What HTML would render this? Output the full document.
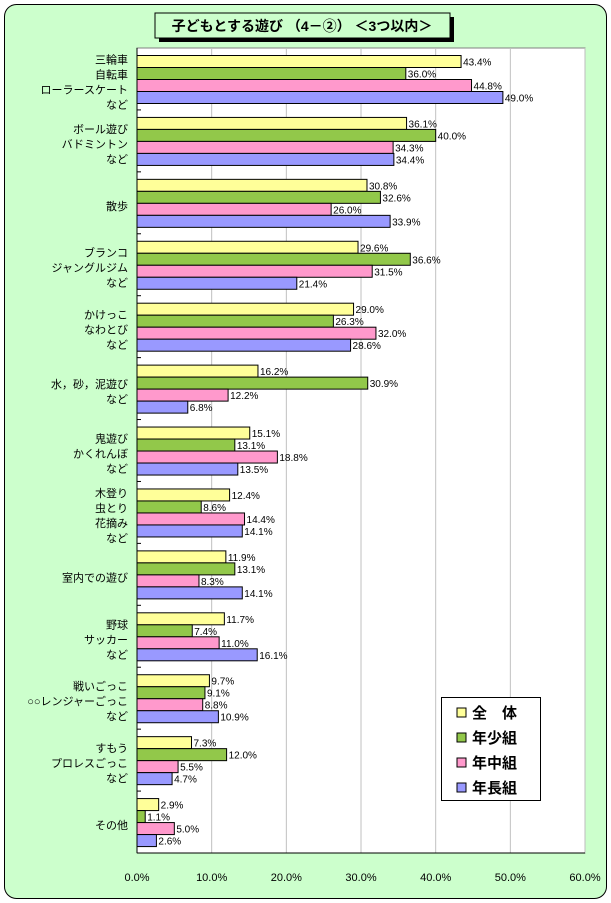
<!DOCTYPE html>
<html><head><meta charset="utf-8">
<style>
html,body{margin:0;padding:0;background:#fff;}
svg{display:block;font-family:"Liberation Sans","Noto Sans CJK JP",sans-serif;}
</style></head>
<body>
<svg id="s" width="611" height="903" xmlns="http://www.w3.org/2000/svg">
<rect x="4.5" y="4.5" width="602" height="894" rx="12" fill="#ccffcc" stroke="#000" stroke-width="1"/>
<rect x="137" y="48" width="448" height="805" fill="#fff" stroke="#808080"/>
<g id="grid"></g>
<g id="bars"></g>
<line x1="137" y1="48" x2="137" y2="853" stroke="#000"/>
<line x1="137" y1="853" x2="585" y2="853" stroke="#000"/>
<rect x="159" y="17" width="295" height="25" fill="#000"/>
<rect x="155" y="13" width="295" height="25" fill="#ccffcc" stroke="#000"/>
<text x="302" y="31" font-size="14" text-anchor="middle" font-weight="bold">子どもとする遊び （4－②） ＜3つ以内＞</text>
<g id="leg">
<rect x="441.5" y="697.5" width="99" height="103" fill="#fff" stroke="#000"/>
<rect x="457" y="708" width="9" height="9" fill="#ffff99" stroke="#000"/>
<text x="472" y="718" font-size="15" font-weight="bold">全　体</text>
<rect x="457" y="733" width="9" height="9" fill="#92c84a" stroke="#000"/>
<text x="472" y="743" font-size="15" font-weight="bold">年少組</text>
<rect x="457" y="758" width="9" height="9" fill="#ff99cc" stroke="#000"/>
<text x="472" y="768" font-size="15" font-weight="bold">年中組</text>
<rect x="457" y="783" width="9" height="9" fill="#9999ff" stroke="#000"/>
<text x="472" y="793" font-size="15" font-weight="bold">年長組</text>
</g>
</svg>
<script>
var NS="http://www.w3.org/2000/svg";
function el(p,t,a,txt){var e=document.createElementNS(NS,t);for(var k in a)e.setAttribute(k,a[k]);if(txt!=null)e.textContent=txt;p.appendChild(e);return e;}
var svg=document.getElementById('s'),grid=document.getElementById('grid'),bars=document.getElementById('bars');
var X0=137,S=7.467,Y0=48,GH=805/13;
for(var g=1;g<=6;g++){var x=X0+g*10*S;el(grid,'line',{x1:x,y1:48,x2:x,y2:853,stroke:'#c0c0c0'});}
for(var g=0;g<=6;g++){var x=X0+g*10*S;el(svg,'text',{x:x,y:881,'font-size':11,'text-anchor':'middle'},(g*10).toFixed(1)+'%');}
var data=[
[["三輪車","自転車","ローラースケート","など"],[43.4,36.0,44.8,49.0]],
[["ボール遊び","バドミントン","など"],[36.1,40.0,34.3,34.4]],
[["散歩"],[30.8,32.6,26.0,33.9]],
[["ブランコ","ジャングルジム","など"],[29.6,36.6,31.5,21.4]],
[["かけっこ","なわとび","など"],[29.0,26.3,32.0,28.6]],
[["水，砂，泥遊び","など"],[16.2,30.9,12.2,6.8]],
[["鬼遊び","かくれんぼ","など"],[15.1,13.1,18.8,13.5]],
[["木登り","虫とり","花摘み","など"],[12.4,8.6,14.4,14.1]],
[["室内での遊び"],[11.9,13.1,8.3,14.1]],
[["野球","サッカー","など"],[11.7,7.4,11.0,16.1]],
[["戦いごっこ","○○レンジャーごっこ","など"],[9.7,9.1,8.8,10.9]],
[["すもう","プロレスごっこ","など"],[7.3,12.0,5.5,4.7]],
[["その他"],[2.9,1.1,5.0,2.6]]];
var cols=['#ffff99','#92c84a','#ff99cc','#9999ff'];
data.forEach(function(d,i){
 var gy=Y0+i*GH;
 if(i>0)el(svg,'line',{x1:137,y1:gy,x2:141,y2:gy,stroke:'#000'});
 d[1].forEach(function(v,j){
  var y=gy+7.5+j*12,w=v*S;
  el(bars,'rect',{x:137,y:y,width:w,height:12,fill:cols[j],stroke:'#000','stroke-width':1});
  el(bars,'text',{x:137+w+2,y:y+10,'font-size':10},v.toFixed(1)+'%');
 });
 var n=d[0].length,cy=gy+GH/2+3;
 d[0].forEach(function(t,k){
  el(svg,'text',{x:128,y:cy+(k-(n-1)/2)*15+4,'font-size':11,'text-anchor':'end'},t);
 });
});
</script>
</body></html>
